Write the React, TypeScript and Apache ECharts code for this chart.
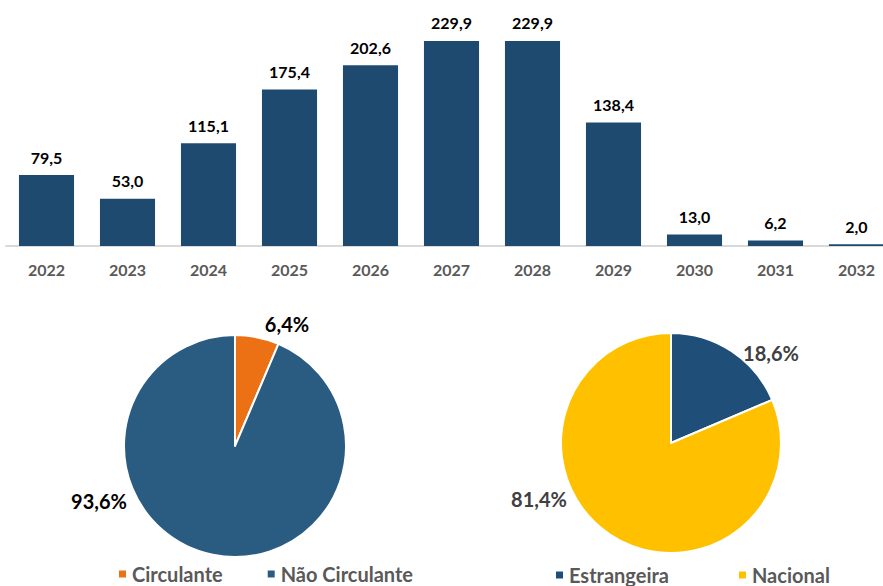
import React, { useEffect, useRef } from "react";
import * as echarts from "echarts";

const years = ["2022", "2023", "2024", "2025", "2026", "2027", "2028", "2029", "2030", "2031", "2032"];
const amortization = [79.5, 53.0, 115.1, 175.4, 202.6, 229.9, 229.9, 138.4, 13.0, 6.2, 2.0];

const termNames = ["Circulante", "Não Circulante"];
const termValues = [6.4, 93.6];

const currencyNames = ["Estrangeira", "Nacional"];
const currencyValues = [18.6, 81.4];

const FONT = "Lato, 'Open Sans', sans-serif";
const fmt = (v: number) => v.toFixed(1).replace(".", ",");

export default function App() {
  const ref = useRef<HTMLDivElement>(null);
  useEffect(() => {
    const chart = echarts.init(ref.current!, undefined, { renderer: "svg" });
    const termColors = ["#EC7014", "#2A5C82"];
    const currColors = ["#1F4E79", "#FFC000"];
    const pie1LabelPos = [
      [287, 324],
      [99, 501],
    ];
    const pie2LabelPos = [
      [771, 353],
      [539, 499],
    ];
    chart.setOption({
      animation: false,
      textStyle: { fontFamily: FONT },
      grid: { left: 6, width: 891, top: 23, height: 223 },
      xAxis: {
        type: "category",
        data: years,
        axisLine: { lineStyle: { color: "#D9D9D9", width: 2 } },
        axisTick: { show: false },
        axisLabel: { color: "#595959", fontWeight: "bold", fontSize: 16, margin: 15, fontFamily: FONT },
      },
      yAxis: { type: "value", min: 0, max: 250, show: false, splitLine: { show: false } },
      legend: [
        {
          data: termNames,
          left: 117,
          top: 564,
          padding: 0,
          icon: "rect",
          itemWidth: 9,
          itemHeight: 9,
          itemGap: 43,
          textStyle: { color: "#595959", fontWeight: "bold", fontSize: 20, fontFamily: FONT },
        },
        {
          data: currencyNames,
          left: 554,
          top: 565,
          padding: 0,
          icon: "rect",
          itemWidth: 9,
          itemHeight: 9,
          itemGap: 68,
          textStyle: { color: "#595959", fontWeight: "bold", fontSize: 20, fontFamily: FONT },
        },
      ],
      series: [
        {
          type: "bar",
          data: amortization,
          barCategoryGap: "32%",
          itemStyle: { color: "#1F4A6F" },
          label: {
            show: true,
            position: "top",
            distance: 10,
            color: "#000",
            fontWeight: "bold",
            fontSize: 16,
            fontFamily: FONT,
            formatter: (p: any) => fmt(p.value),
          },
        },
        {
          type: "pie",
          center: [235, 446],
          radius: 111,
          startAngle: 90,
          clockwise: true,
          data: termNames.map((n, i) => ({ name: n, value: termValues[i], itemStyle: { color: termColors[i] } })),
          itemStyle: { borderColor: "#fff", borderWidth: 2 },
          label: {
            show: true,
            position: "outside",
            color: "#000",
            fontWeight: "bold",
            fontSize: 20,
            fontFamily: FONT,
            formatter: (p: any) => fmt(p.value) + "%",
          },
          labelLine: { show: false },
          labelLayout: (p: any) => ({
            x: pie1LabelPos[p.dataIndex][0],
            y: pie1LabelPos[p.dataIndex][1],
            align: "center",
            verticalAlign: "middle",
          }),
        },
        {
          type: "pie",
          center: [671, 443],
          radius: 110,
          startAngle: 90,
          clockwise: true,
          data: currencyNames.map((n, i) => ({ name: n, value: currencyValues[i], itemStyle: { color: currColors[i] } })),
          itemStyle: { borderColor: "#fff", borderWidth: 2 },
          label: {
            show: true,
            position: "outside",
            color: "#404040",
            fontWeight: "bold",
            fontSize: 20,
            fontFamily: FONT,
            formatter: (p: any) => fmt(p.value) + "%",
          },
          labelLine: { show: false },
          labelLayout: (p: any) => ({
            x: pie2LabelPos[p.dataIndex][0],
            y: pie2LabelPos[p.dataIndex][1],
            align: "center",
            verticalAlign: "middle",
          }),
        },
      ],
    });
    return () => chart.dispose();
  }, []);
  return (
    <div style={{ position: "fixed", left: 0, top: 0, width: 883, height: 586, overflow: "hidden", background: "#fff" }}>
      <div ref={ref} style={{ width: 900, height: 586 }} />
    </div>
  );
}
